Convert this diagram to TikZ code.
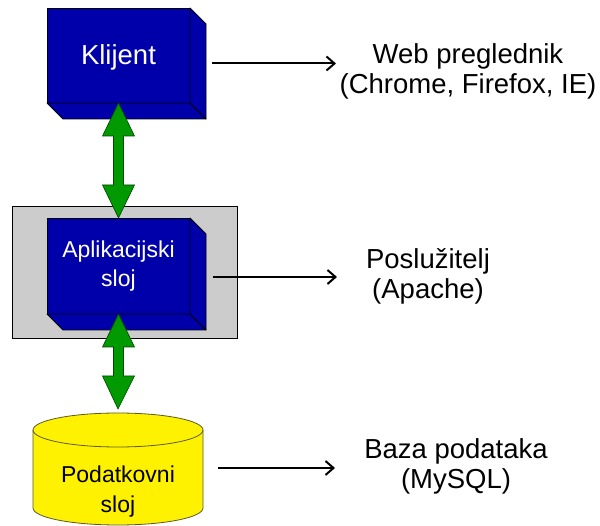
\documentclass[tikz,border=0pt]{standalone}
\usepackage{fontspec}
\setmainfont{Liberation Sans}
\usetikzlibrary{arrows.meta,calc}
\definecolor{navyface}{RGB}{0,0,170}
\definecolor{grayback}{RGB}{204,204,204}
\definecolor{garrowfill}{RGB}{0,153,0}
\definecolor{garrowline}{RGB}{0,70,0}
\definecolor{cylline}{RGB}{90,90,40}
\newcommand\greenarrow[2]{%
  \path[garrow] let \p1=(#1), \p2=(#2) in
    (\x1,\y1) -- (\x1+16pt,\y1-33pt) -- (\x1+5pt,\y1-33pt) -- (\x1+5pt,\y2+33pt)
    -- (\x1+16pt,\y2+33pt) -- (\x2,\y2) -- (\x1-16pt,\y2+33pt) -- (\x1-5pt,\y2+33pt)
    -- (\x1-5pt,\y1-33pt) -- (\x1-16pt,\y1-33pt) -- cycle;}
\begin{document}
\begin{tikzpicture}[x=1pt,y=-1pt,
  frontface/.style={draw=black, line width=0.8pt, fill=navyface, text=white,
    inner sep=0pt, outer sep=0pt, align=center},
  sideface/.style={draw=black, line width=0.8pt, fill=navyface, line join=round},
  graybox/.style={draw=black, line width=1pt, fill=grayback, inner sep=0pt, outer sep=0pt},
  garrow/.style={fill=garrowfill, draw=garrowline, line width=0.6pt, line join=miter},
  cyl/.style={fill=yellow, draw=cylline, line width=0.8pt},
  rarrow/.style={line width=2pt, -{Straight Barb[length=8pt,width=14pt]}},
  biglabel/.style={font=\fontsize{27.5}{30}\selectfont, align=center, inner sep=0pt},
  smalltext/.style={font=\fontsize{23}{29.5}\selectfont}
]
\useasboundingbox (0,0) rectangle (600,526);
\fill[white] (0,0) rectangle (600,526);

% server background
\node[graybox, minimum width=225, minimum height=132] (srv) at (124.5,273) {};

% client box
\node[frontface, minimum width=143, minimum height=95,
      font=\fontsize{27.5}{30}\selectfont, text height=22pt, text depth=3pt] (kl) at (118.5,55.5) {Klijent};
\draw[sideface] (kl.south west) -- (kl.south east) -- ++(16,16) -- ($(kl.south west)+(16,16)$) -- cycle;
\draw[sideface] (kl.north east) -- ++(16,16) -- ($(kl.south east)+(16,16)$) -- (kl.south east) -- cycle;

% application box
\node[frontface, smalltext, minimum width=143, minimum height=96] (app) at (118.5,266) {Aplikacijski\\sloj};
\draw[sideface] (app.south west) -- (app.south east) -- ++(16,16) -- ($(app.south west)+(16,16)$) -- cycle;
\draw[sideface] (app.north east) -- ++(16,16) -- ($(app.south east)+(16,16)$) -- (app.south east) -- cycle;

% database cylinder
\coordinate (cyltw) at (33,430);
\coordinate (cylte) at (203,430);
\coordinate (cylbw) at (33,508);
\coordinate (cylbe) at (203,508);
\coordinate (cyltop) at (118,409);
\path[cyl] (cyltw) -- (cylbw) arc[start angle=180, end angle=360, x radius=85pt, y radius=17pt]
  -- (cylte) arc[start angle=0, end angle=180, x radius=85pt, y radius=17pt] -- cycle;
\draw[draw=cylline, line width=0.8pt] (cyltw) arc[start angle=180, end angle=360, x radius=85pt, y radius=17pt];
\node[smalltext, align=center, inner sep=0pt] (db) at (118,491.5) {Podatkovni\\sloj};

% green double arrows
\greenarrow{kl.south}{app.north}
\greenarrow{app.south}{cyltop}

% right labels
\node[biglabel] (web) at (468,71) {Web preglednik\\(Chrome, Firefox, IE)};
\node[biglabel] (pos) at (428,276) {Poslužitelj\\(Apache)};
\node[biglabel] (baza) at (456,466) {Baza podataka\\(MySQL)};

\coordinate (webend) at (336,63.5);
\coordinate (posend) at (337,277);
\coordinate (bazaend) at (335,468);
\draw[rarrow] ($(kl.east)+(22,8)$) -- (webend);
\draw[rarrow] ($(app.east)+(23,11)$) -- (posend);
\draw[rarrow] (218,468) -- (bazaend);
\end{tikzpicture}
\end{document}
